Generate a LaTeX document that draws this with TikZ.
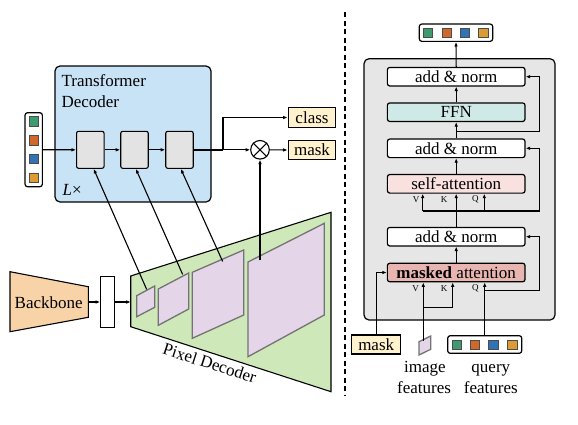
\documentclass[tikz,border=0pt]{standalone}
\usepackage{fontspec}
\setmainfont{Liberation Serif}
\usetikzlibrary{arrows.meta}
\definecolor{decblue}{RGB}{199,227,245}
\definecolor{blkgray}{RGB}{227,227,227}
\definecolor{cream}{RGB}{255,242,204}
\definecolor{bbone}{RGB}{249,211,168}
\definecolor{pdgreen}{RGB}{206,232,185}
\definecolor{lilac}{RGB}{228,214,232}
\definecolor{framegray}{RGB}{115,115,115}
\definecolor{panelgray}{RGB}{230,230,230}
\definecolor{ffnc}{RGB}{207,234,230}
\definecolor{sac}{RGB}{249,225,224}
\definecolor{mac}{RGB}{232,181,176}
\definecolor{qgreen}{RGB}{62,155,112}
\definecolor{qorange}{RGB}{210,103,42}
\definecolor{qblue}{RGB}{50,115,182}
\definecolor{qgold}{RGB}{221,155,52}
\begin{document}
\begin{tikzpicture}[x=1pt,y=-1pt,
  font=\fontsize{17}{20}\selectfont,
  line width=1.1pt,
  arr/.style={-{Latex[length=4.5pt,width=3.6pt]}},
  qbox/.style={draw, fill=white, rounded corners=2.5pt, inner sep=0pt, line width=1.2pt},
  sq/.style={draw=black!70, line width=0.6pt, minimum size=9.3pt, inner sep=0pt},
  blk/.style={draw, fill=blkgray, rounded corners=2pt, minimum width=27.5pt, minimum height=37pt, inner sep=0pt},
  lbl/.style={draw, fill=cream, inner sep=0pt, line width=1.1pt},
  frm/.style={draw=framegray, fill=lilac, line width=1.3pt},
  layer/.style={draw, rounded corners=2.5pt, minimum width=137.7pt, minimum height=18.6pt, inner sep=0pt, line width=1.2pt},
  vkq/.style={font=\fontsize{9}{10}\selectfont, inner sep=0pt}
]
\useasboundingbox (0,0) rectangle (578,424);

% ---------- Transformer decoder ----------
\node[draw, fill=decblue, rounded corners=5pt, minimum width=156pt, minimum height=136pt, inner sep=0pt, line width=1.2pt] (dec) at (133,134) {};
\node[anchor=base west, inner sep=0pt] (tt1) at (61,86) {Transformer};
\node[anchor=base west, inner sep=0pt] (tt2) at (61,107.3) {Decoder};
\node[anchor=base west, inner sep=0pt] (lx) at (62,195.5) {\textit{L}×};

\node[qbox, minimum width=17.3pt, minimum height=74pt] (ql) at (33.7,149.7) {};
\node[sq, fill=qgreen] (ql1) at (33.6,121.3) {};
\node[sq, fill=qorange] (ql2) at (33.6,140.3) {};
\node[sq, fill=qblue] (ql3) at (33.6,159) {};
\node[sq, fill=qgold] (ql4) at (33.6,177.6) {};

\node[blk] (b1) at (90.3,149.8) {};
\node[blk] (b2) at (134.5,149.8) {};
\node[blk] (b3) at (179.5,149.8) {};
\draw[arr] (ql.east) -- (b1.west);
\draw[arr] (b1.east) -- (b2.west);
\draw[arr] (b2.east) -- (b3.west);

\coordinate (jn) at (223,149.8);
\node[lbl, minimum width=47.7pt, minimum height=19.6pt] (cls) at (312,117.5) {class};
\node[lbl, minimum width=47.7pt, minimum height=19.6pt] (msk) at (312,150) {mask};
\node[circle, draw, fill=white, minimum size=18.6pt, inner sep=0pt] (ot) at (260,149.8) {};
\draw (ot.north east) -- (ot.south west) (ot.north west) -- (ot.south east);
\draw[line width=1.8pt] (b3.east) -- (jn);
\draw[arr] (jn) -- (ot.west);
\draw[arr] (jn) |- (cls.west);
\draw[arr] (ot.east) -- (msk.west);

% ---------- Backbone ----------
\draw[fill=bbone] (10,271.7) -- (88.3,286.7) -- (88.3,317.3) -- (10,331.7) -- cycle;
\node[anchor=base, inner sep=0pt] (bb) at (48.7,308.3) {Backbone};
\coordinate (bbr) at (88.3,302);
\node[draw, fill=white, minimum width=13.6pt, minimum height=50.6pt, inner sep=0pt] (wr) at (107.5,302) {};
\coordinate (pdl) at (130.7,302);
\draw[arr] (bbr) -- (wr.west);
\draw[arr] (wr.east) -- (pdl);

% ---------- Pixel decoder ----------
\draw[fill=pdgreen] (130.7,276) -- (331,212.3) -- (331,391.7) -- (130.7,326.7) -- cycle;
\draw[frm] (136.7,295.7) -- (154.7,286) -- (154.7,307.3) -- (136.7,316.7) -- cycle;
\draw[frm] (158.3,289) -- (188.7,273) -- (188.7,309) -- (158.3,325.3) -- cycle;
\draw[frm] (192.3,272.3) -- (243.7,250) -- (243.7,315) -- (192.3,338.3) -- cycle;
\draw[frm] (248,262) -- (324.3,223.3) -- (324.3,315) -- (248,356.7) -- cycle;
\node[rotate=-18, anchor=north, inner sep=1pt] (pdt) at (212,356) {Pixel Decoder};

\coordinate (e1) at (146.7,289.5);
\coordinate (e2) at (182.7,274.5);
\coordinate (e3) at (222.7,261.5);
\coordinate (e4) at (260,260);
\draw[arr] (e1) -- (b1.-80);
\draw[arr] (e2) -- (b2.-86);
\draw[arr] (e3) -- (b3.-86);
\draw[arr] (e4) -- (ot.south);

% ---------- divider ----------
\draw[line width=1.2pt, dash pattern=on 5pt off 3.5pt] (345,12) -- (345,395);

% ---------- Right panel ----------
\node[draw, fill=panelgray, rounded corners=5pt, minimum width=191pt, minimum height=261.3pt, inner sep=0pt, line width=1.2pt] (pn) at (459.5,189.35) {};

\node[qbox, minimum width=73.4pt, minimum height=17.3pt] (out) at (456,32.7) {};
\node[sq, fill=qgreen] (o1) at (428,32.7) {};
\node[sq, fill=qorange] (o2) at (446.7,32.7) {};
\node[sq, fill=qblue] (o3) at (465,32.7) {};
\node[sq, fill=qgold] (o4) at (483.3,32.7) {};

\node[layer, fill=white] (an1) at (456.2,76.7) {add \& norm};
\node[layer, fill=ffnc] (ffn) at (456.2,112.2) {FFN};
\node[layer, fill=white] (an2) at (456.2,148.3) {add \& norm};
\node[layer, fill=sac] (sa) at (456.2,183.8) {self-attention};
\node[layer, fill=white] (an3) at (456.2,236.7) {add \& norm};
\node[layer, fill=mac] (ma) at (456.2,272.5) {\textbf{masked} attention};

\draw[arr] (an1.north) -- (out.south);
\draw[arr] (ffn.north) -- (an1.south);
\draw[arr] (an2.north) -- (ffn.south);
\draw[arr] (sa.north) -- (an2.south);
\draw[arr] (an3.north) -- (sa.south);
\draw[arr] (ma.north) -- (an3.south);

% FFN residual
\coordinate (r1) at (456.2,131.7);
\draw[arr] (r1) -| ([xshift=13.5pt]an1.east) -- (an1.east);
% self-attention inputs and residual
\coordinate (sv) at (422.7,211);
\coordinate (sqq) at (484.3,211);
\draw[arr] (sv) -- (sv |- sa.south);
\draw[arr] (sqq) -- (sqq |- sa.south);
\draw[arr] (sv) -| ([xshift=13.5pt]an2.east) -- (an2.east);
\node[vkq] (sV) at (416.2,199.6) {V};
\node[vkq] (sK) at (444,199.6) {K};
\node[vkq] (sQ) at (475.3,199.6) {Q};

% masked attention inputs
\node[vkq] (mV) at (415.7,288.6) {V};
\node[vkq] (mK) at (444,288.6) {K};
\node[vkq] (mQ) at (475.3,288.6) {Q};

\node[lbl, minimum width=49pt, minimum height=19pt] (mk) at (376.2,344.5) {mask};
\draw[arr] (mk.north) |- (ma.west);

\draw[frm] (419,341.7) -- (430.7,336) -- (430.7,349.3) -- (419,355) -- cycle;
\coordinate (imt) at (423.3,340.5);
\coordinate (iv) at (423.3,307.3);
\coordinate (ik) at (452.7,307.3);
\draw (imt) -- (iv) -- (ik);
\draw[arr] (iv) -- (iv |- ma.south);
\draw[arr] (ik) -- (ik |- ma.south);

\node[qbox, minimum width=74pt, minimum height=17.6pt] (qf) at (484.7,344.5) {};
\node[sq, fill=qgreen] (q1) at (456.7,344.5) {};
\node[sq, fill=qorange] (q2) at (475,344.5) {};
\node[sq, fill=qblue] (q3) at (493.3,344.5) {};
\node[sq, fill=qgold] (q4) at (512.3,344.5) {};
\draw[arr] (qf.north) -- (qf.north |- ma.south);
\coordinate (qr) at (484.7,290.7);
\draw[arr] (qr) -| ([xshift=13.5pt]an3.east) -- (an3.east);

\node[anchor=base, inner sep=0pt] (imgt1) at (425,372.3) {image};
\node[anchor=base, inner sep=0pt] (imgt2) at (424,393.3) {features};
\node[anchor=base, inner sep=0pt] (qft1) at (490.8,372.3) {query};
\node[anchor=base, inner sep=0pt] (qft2) at (490.8,393.3) {features};
\end{tikzpicture}
\end{document}
